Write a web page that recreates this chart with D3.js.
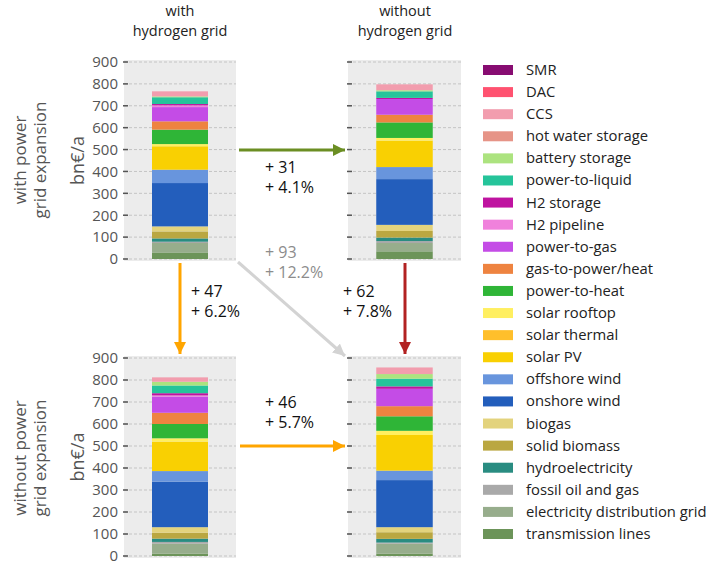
<!DOCTYPE html>
<html>
<head>
<meta charset="utf-8">
<script src="https://cdn.jsdelivr.net/npm/d3@7"></script>
<style>
  body { margin: 0; background: #fff; }
  svg { display: block; font-family: "Open Sans", "DejaVu Sans", sans-serif; }
</style>
</head>
<body>
<div id="chart"></div>
<script>
// cost components, stacked from the bottom up
const techs = [
    "transmission lines", "electricity distribution grid", "fossil oil and gas", "hydroelectricity",
    "solid biomass", "biogas", "onshore wind", "offshore wind", "solar PV", "solar thermal",
    "solar rooftop", "power-to-heat", "gas-to-power/heat", "power-to-gas", "H2 pipeline",
    "H2 storage", "power-to-liquid", "battery storage", "hot water storage", "CCS", "DAC", "SMR"
];
const techColors = [
    "#6c9459", "#97ad8c", "#a9a9a9", "#298c81",
    "#baa741", "#e3d37d", "#235ebc", "#6895dd", "#f9d002", "#ffbf2b",
    "#ffef60", "#2fb537", "#ee8340", "#c44ce6", "#f081dc",
    "#bf13a0", "#25c49a", "#ace37f", "#e69487", "#f29dae", "#ff5270", "#870c71"
];

// bn EUR per year, same order as techs
const withH2WithPower    = [30, 43, 6, 15, 32, 23, 198, 61, 107, 0, 10, 66, 38, 65, 8, 6, 31, 4, 0, 23, 0, 0];
const withoutH2WithPower = [35, 38, 9, 16, 30, 28, 209, 55, 121, 0, 12, 71, 35, 72, 0, 5, 30, 5, 0, 27, 0, 0];
const withH2NoPower      = [11, 45, 8, 15, 27, 25, 207, 48, 134, 0, 15, 65, 51, 74, 5, 10, 35, 17, 0, 20, 0, 0];
const withoutH2NoPower   = [11, 45, 5, 17, 30, 23, 214, 43, 162, 0, 19, 66, 46, 79, 0, 11, 35, 21, 0, 30, 0, 0];

const colTitles = [["with", "hydrogen grid"], ["without", "hydrogen grid"]];
const rowTitles = [["with power", "grid expansion"], ["without power", "grid expansion"]];
const yTicks = [0, 100, 200, 300, 400, 500, 600, 700, 800, 900];

// arrows between scenarios: [absolute, relative]
const diffLabels = {
    h2Top: ["+ 31", "+ 4.1%"],
    powerLeft: ["+ 47", "+ 6.2%"],
    both: ["+ 93", "+ 12.2%"],
    powerRight: ["+ 62", "+ 7.8%"],
    h2Bottom: ["+ 46", "+ 5.7%"]
};

const width = 709, height = 561;
const svg = d3.select("#chart").append("svg")
    .attr("width", width)
    .attr("height", height);

const defs = svg.append("defs");
function makeHead(id, color){
    defs.append("marker")
        .attr("id", id)
        .attr("viewBox", "0 0 10 10")
        .attr("refX", 10).attr("refY", 5)
        .attr("markerUnits", "userSpaceOnUse")
        .attr("markerWidth", 12).attr("markerHeight", 12)
        .attr("orient", "auto")
        .append("path")
        .attr("d", "M0,0 L10,5 L0,10 Z")
        .attr("fill", color);
}
makeHead("headGreen", "#6b8e23");
makeHead("headOrange", "#ffa500");
makeHead("headGray", "#d3d3d3");
makeHead("headRed", "#b22222");

const panels = [
    {name: "withH2WithPower", values: withH2WithPower, x0: 124, x1: 236, top: 62, bottom: 259, labels: true},
    {name: "withoutH2WithPower", values: withoutH2WithPower, x0: 348, x1: 461, top: 62, bottom: 259, labels: false},
    {name: "withH2NoPower", values: withH2NoPower, x0: 124, x1: 236, top: 358, bottom: 556, labels: true},
    {name: "withoutH2NoPower", values: withoutH2NoPower, x0: 348, x1: 461, top: 358, bottom: 556, labels: false}
];

panels.forEach(p => {
    const g = svg.append("g");
    const y = d3.scaleLinear().domain([0, 900]).range([p.bottom, p.top]);
    const x = d3.scaleBand().domain([p.name]).range([p.x0, p.x1]).paddingInner(1/3).paddingOuter(1/3);

    g.append("rect")
        .attr("x", p.x0).attr("y", p.top - 2)
        .attr("width", p.x1 - p.x0).attr("height", p.bottom - p.top + 4)
        .attr("fill", "#ececec");

    // grid
    g.selectAll(".grid").data(yTicks).join("line")
        .attr("x1", p.x0).attr("x2", p.x1)
        .attr("y1", d => y(d)).attr("y2", d => y(d))
        .attr("stroke", "#c4c4c4")
        .attr("stroke-dasharray", "3,2")
        .attr("stroke-width", 1);

    // stacked bar
    const row = {};
    techs.forEach((t, i) => row[t] = p.values[i]);
    const series = d3.stack().keys(techs)([row]);
    g.selectAll(".seg").data(series).join("rect")
        .attr("x", x(p.name))
        .attr("width", x.bandwidth())
        .attr("y", d => y(d[0][1]))
        .attr("height", d => y(d[0][0]) - y(d[0][1]))
        .attr("fill", (d, i) => techColors[i]);

    // ticks
    const axis = d3.axisLeft(y).tickValues(yTicks).tickSize(0).tickPadding(5)
        .tickFormat(p.labels ? d3.format("d") : () => "");
    const ax = g.append("g").attr("transform", `translate(${p.x0 - 1},0)`).call(axis);
    ax.select(".domain").remove();
    ax.selectAll("text").attr("fill", "#555").attr("font-size", 15)
        .attr("font-family", "'Open Sans', sans-serif");
    g.selectAll(".tk").data(yTicks).join("line")
        .attr("x1", p.x0 - 1).attr("x2", p.x0 + 4)
        .attr("y1", d => y(d)).attr("y2", d => y(d))
        .attr("stroke", "#555").attr("stroke-width", 1.5);

    if(p.labels){
        g.append("text")
            .attr("transform", `translate(84,${(p.top + p.bottom) / 2}) rotate(-90)`)
            .attr("text-anchor", "middle")
            .attr("font-size", 18).attr("fill", "#555")
            .text("bn€/a");
    }
});

// column titles
colTitles.forEach((lines, i) => {
    const cx = i === 0 ? 180 : 405;
    lines.forEach((t, j) => {
        svg.append("text")
            .attr("x", cx).attr("y", 16 + j * 20)
            .attr("text-anchor", "middle")
            .attr("font-size", 14.5).attr("fill", "#222")
            .text(t);
    });
});

// row titles
rowTitles.forEach((lines, i) => {
    const cy = i === 0 ? 160 : 458;
    lines.forEach((t, j) => {
        svg.append("text")
            .attr("transform", `translate(${26 + j * 20},${cy}) rotate(-90)`)
            .attr("text-anchor", "middle")
            .attr("font-size", 17).attr("fill", "#555")
            .text(t);
    });
});

// arrows
function arrow(x1, y1, x2, y2, color, head){
    svg.append("line")
        .attr("x1", x1).attr("y1", y1).attr("x2", x2).attr("y2", y2)
        .attr("stroke", color).attr("stroke-width", 3)
        .attr("marker-end", `url(#${head})`);
}
function label(x, y, lines, color){
    lines.forEach((t, j) => {
        svg.append("text")
            .attr("x", x).attr("y", y + j * 20)
            .attr("font-size", 16).attr("fill", color)
            .text(t);
    });
}
arrow(239, 150, 345, 150, "#6b8e23", "headGreen");
label(265, 173, diffLabels.h2Top, "#111");

arrow(180, 263, 180, 354, "#ffa500", "headOrange");
label(191, 297, diffLabels.powerLeft, "#111");

arrow(238, 262, 345, 356, "#d3d3d3", "headGray");
label(265, 258, diffLabels.both, "#8c8c8c");

arrow(405, 263, 405, 354, "#b22222", "headRed");
label(343, 297, diffLabels.powerRight, "#111");

arrow(240, 446, 345, 446, "#ffa500", "headOrange");
label(265, 408, diffLabels.h2Bottom, "#111");

// legend, top entry is the last tech
const legend = svg.append("g");
const legendOrder = techs.slice().reverse();
const ly = d3.scalePoint().domain(legendOrder).range([70, 534]);
legendOrder.forEach(t => {
    const c = techColors[techs.indexOf(t)];
    legend.append("rect")
        .attr("x", 483).attr("y", ly(t) - 5)
        .attr("width", 30).attr("height", 10)
        .attr("fill", c);
    legend.append("text")
        .attr("x", 526).attr("y", ly(t) + 5)
        .attr("font-size", 14.8).attr("fill", "#222")
        .text(t);
});
</script>
</body>
</html>
